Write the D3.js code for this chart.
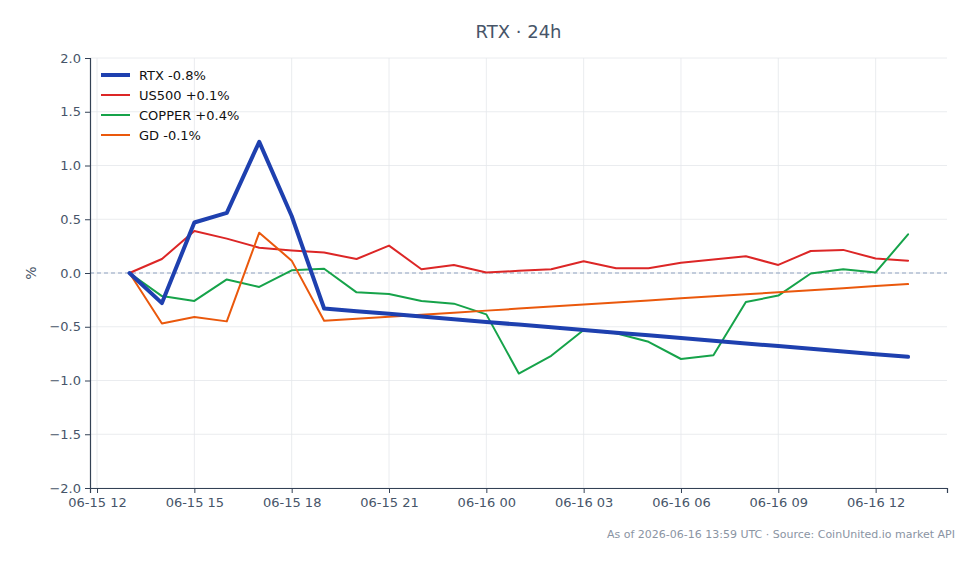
<!DOCTYPE html>
<html><head><meta charset="utf-8">
<script src="https://cdn.jsdelivr.net/npm/d3@7"></script>
<style>
html,body{margin:0;padding:0;background:#fff;}
svg{display:block;font-family:"DejaVu Sans",sans-serif;}
</style></head>
<body><svg id="c" width="979" height="564"></svg>
<script>
const times = ["2026-06-15T13:00","2026-06-15T14:00","2026-06-15T15:00","2026-06-15T16:00","2026-06-15T17:00","2026-06-15T18:00","2026-06-15T19:00","2026-06-15T20:00","2026-06-15T21:00","2026-06-15T22:00","2026-06-15T23:00","2026-06-16T00:00","2026-06-16T01:00","2026-06-16T02:00","2026-06-16T03:00","2026-06-16T04:00","2026-06-16T05:00","2026-06-16T06:00","2026-06-16T07:00","2026-06-16T08:00","2026-06-16T09:00","2026-06-16T10:00","2026-06-16T11:00","2026-06-16T12:00","2026-06-16T13:00"];
const rtx = [0,-0.28,0.47,0.56,1.22,0.53,-0.33,-0.355,-0.38,-0.405,-0.43,-0.455,-0.48,-0.505,-0.53,-0.555,-0.58,-0.605,-0.63,-0.655,-0.68,-0.705,-0.73,-0.755,-0.78];
const us500 = [0,0.13,0.39,0.32,0.235,0.21,0.19,0.13,0.255,0.035,0.075,0.005,0.02,0.035,0.11,0.045,0.045,0.095,0.125,0.155,0.075,0.205,0.215,0.135,0.115];
const copper = [0,-0.215,-0.26,-0.06,-0.13,0.025,0.04,-0.18,-0.195,-0.26,-0.285,-0.385,-0.935,-0.77,-0.53,-0.56,-0.64,-0.80,-0.765,-0.27,-0.21,-0.005,0.035,0.005,0.36];
const gd = [0,-0.47,-0.41,-0.45,0.375,0.115,-0.445,-0.426,-0.407,-0.388,-0.369,-0.35,-0.331,-0.312,-0.293,-0.274,-0.255,-0.236,-0.217,-0.198,-0.179,-0.16,-0.141,-0.122,-0.103];
const seriesNames = ["RTX -0.8%","US500 +0.1%","COPPER +0.4%","GD -0.1%"];
const seriesColors = ["#1e40af","#dc2626","#16a34a","#ea580c"];
const seriesWidths = [4,2,2,2];
const yTicks = [-2,-1.5,-1,-0.5,0,0.5,1,1.5,2];
const xTickTimes = ["2026-06-15T12:00","2026-06-15T15:00","2026-06-15T18:00","2026-06-15T21:00","2026-06-16T00:00","2026-06-16T03:00","2026-06-16T06:00","2026-06-16T09:00","2026-06-16T12:00"];
const titleText = "RTX · 24h";
const footerText = "As of 2026-06-16 13:59 UTC · Source: CoinUnited.io market API";

const parse = d3.timeParse("%Y-%m-%dT%H:%M");
const T = times.map(parse);
const series = [rtx, us500, copper, gd];

const svg = d3.select("#c");
const L = 90, R = 947, Tp = 58, B = 488;
const x = d3.scaleTime().domain([parse("2026-06-15T11:47"), parse("2026-06-16T14:12")]).range([L, R]);
const y = d3.scaleLinear().domain([-2, 2]).range([B, Tp]);
const axisColor = "#334155", textColor = "#475569";

// grid
const g = svg.append("g");
g.selectAll(".hg").data(yTicks).join("line")
  .attr("x1", L).attr("x2", R).attr("y1", d => y(d)).attr("y2", d => y(d))
  .attr("stroke", "#e5e7eb").attr("stroke-width", 0.8);
g.selectAll(".vg").data(xTickTimes.map(parse)).join("line")
  .attr("x1", d => x(d)).attr("x2", d => x(d)).attr("y1", Tp).attr("y2", B)
  .attr("stroke", "#e5e7eb").attr("stroke-width", 0.8);

// zero line
svg.append("line").attr("x1", L).attr("x2", R).attr("y1", y(0)).attr("y2", y(0))
  .attr("stroke", "#8fa3c0").attr("stroke-width", 1).attr("stroke-dasharray", "4,3");

// axes
const yAxis = svg.append("g").attr("transform", `translate(${L},0)`)
  .call(d3.axisLeft(y).tickValues(yTicks).tickFormat(d3.format(".1f")).tickSize(5).tickPadding(4));
const xAxis = svg.append("g").attr("transform", `translate(0,${B})`)
  .call(d3.axisBottom(x).tickValues(xTickTimes.map(parse)).tickFormat(d3.timeFormat("%m-%d %H")).tickSize(5).tickPadding(5));
[yAxis, xAxis].forEach(a => {
  a.select(".domain").attr("stroke", axisColor).attr("stroke-width", 1.2);
  a.selectAll(".tick line").attr("stroke", axisColor).attr("stroke-width", 1);
  a.selectAll(".tick text").attr("fill", textColor).style("font-size", "13px").style("font-family", "DejaVu Sans");
});

// lines (draw order: others then RTX on top)
const line = d3.line().x((d, i) => x(T[i])).y(d => y(d));
[1, 2, 3, 0].forEach(k => {
  svg.append("path").datum(series[k]).attr("d", line)
    .attr("fill", "none").attr("stroke", seriesColors[k]).attr("stroke-width", seriesWidths[k])
    .attr("stroke-linejoin", "round").attr("stroke-linecap", "round");
});

// legend
const lg = svg.append("g");
seriesNames.forEach((n, k) => {
  const yy = 75 + k * 20;
  lg.append("line").attr("x1", 101).attr("x2", 130).attr("y1", yy).attr("y2", yy)
    .attr("stroke", seriesColors[k]).attr("stroke-width", seriesWidths[k]);
  lg.append("text").attr("x", 139).attr("y", yy).attr("dy", "0.35em")
    .style("font-size", "13px").attr("fill", "#111").text(n);
});

// title
svg.append("text").attr("x", (L + R) / 2).attr("y", 38).attr("text-anchor", "middle")
  .style("font-size", "18px").attr("fill", textColor).text(titleText);
// y label
svg.append("text").attr("transform", `translate(36,${y(0)}) rotate(-90)`).attr("text-anchor", "middle")
  .style("font-size", "14px").attr("fill", textColor).text("%");
// footer
svg.append("text").attr("x", 955).attr("y", 538).attr("text-anchor", "end")
  .style("font-size", "11px").attr("fill", "#8a94a3").text(footerText);
</script></body></html>
